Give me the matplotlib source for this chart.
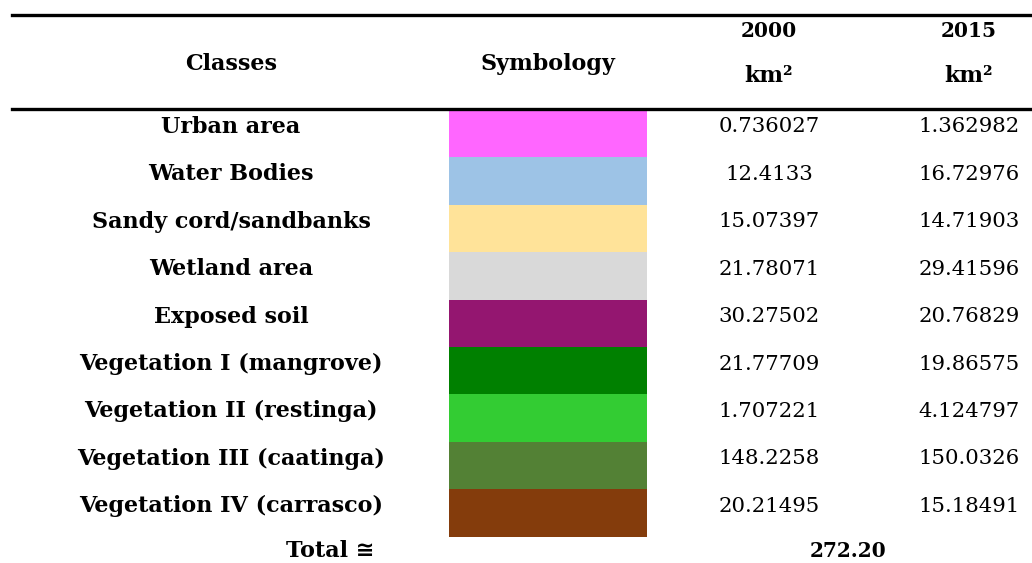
import matplotlib.pyplot as plt
from matplotlib.patches import Rectangle

plt.rcParams['font.family'] = ['DejaVu Serif', 'DejaVu Sans']

# Table data
classes = ['Urban area', 'Water Bodies', 'Sandy cord/sandbanks', 'Wetland area',
           'Exposed soil', 'Vegetation I (mangrove)', 'Vegetation II (restinga)',
           'Vegetation III (caatinga)', 'Vegetation IV (carrasco)']
colors = ['#FF66FF', '#9DC3E6', '#FFE399', '#D9D9D9', '#941670',
          '#008000', '#33CC33', '#538135', '#843C0C']
area_2000 = ['0.736027', '12.4133', '15.07397', '21.78071', '30.27502',
             '21.77709', '1.707221', '148.2258', '20.21495']
area_2015 = ['1.362982', '16.72976', '14.71903', '29.41596', '20.76829',
             '19.86575', '4.124797', '150.0326', '15.18491']
total = '272.20'

W, H = 1032, 563
fig = plt.figure(figsize=(W / 100, H / 100), dpi=100)
ax = fig.add_axes([0, 0, 1, 1])
ax.set_xlim(0, W)
ax.set_ylim(H, 0)
ax.axis('off')

fs = 16      # bold labels
fd = 14.5    # bold digits
fn = 15.3    # numbers
x_cls, x_sym, x_2000, x_2015 = 231, 548, 769, 969
row_top, row_h = 110, 47.4

# Header
ax.plot([12, W], [15, 15], color='black', lw=2.4)
ax.plot([12, W], [109, 109], color='black', lw=2.4)
ax.text(x_cls, 64, 'Classes', ha='center', va='center', fontsize=fs, fontweight='bold')
ax.text(x_sym, 64, 'Symbology', ha='center', va='center', fontsize=fs, fontweight='bold')
for x, yr in [(x_2000, '2000'), (x_2015, '2015')]:
    ax.text(x, 31, yr, ha='center', va='center', fontsize=fd, fontweight='bold')
    ax.text(x, 76, 'km²', ha='center', va='center', fontsize=fs, fontweight='bold')

# Rows
for i, (name, c, a, b) in enumerate(zip(classes, colors, area_2000, area_2015)):
    top = row_top + i * row_h
    ax.add_patch(Rectangle((449, top), 198, row_h, facecolor=c, edgecolor='none'))
    yc = top + 17
    ax.text(x_cls, yc, name, ha='center', va='center', fontsize=fs, fontweight='bold')
    ax.text(x_2000, yc, a, ha='center', va='center', fontsize=fn)
    ax.text(x_2015, yc, b, ha='center', va='center', fontsize=fn)

ty = row_top + len(classes) * row_h + 14
ax.text(330, ty, 'Total ≅', ha='center', va='center', fontsize=fs, fontweight='bold')
ax.text(848, ty, total, ha='center', va='center', fontsize=fd, fontweight='bold')

fig.savefig('out.png', dpi=100)
